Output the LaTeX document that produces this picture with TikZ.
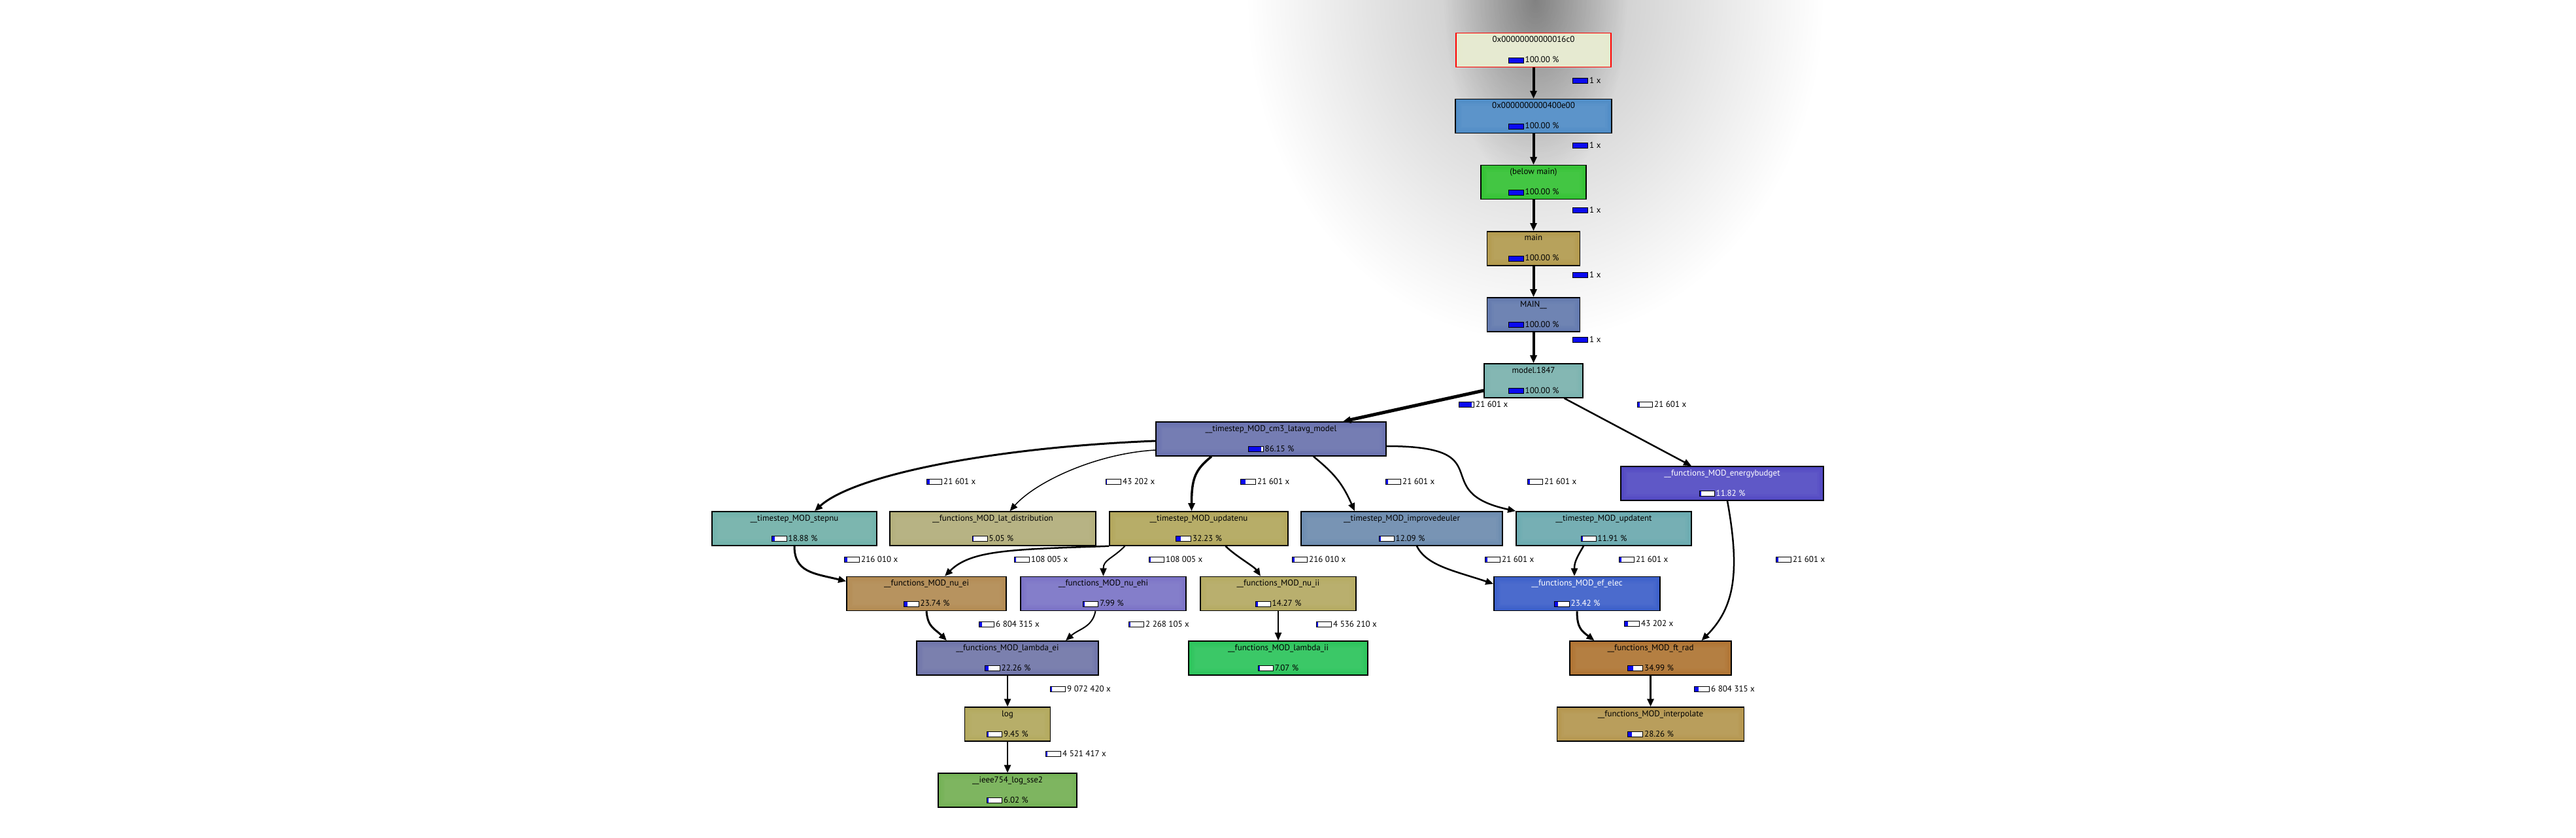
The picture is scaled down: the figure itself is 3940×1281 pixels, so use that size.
\documentclass[tikz,border=0pt]{standalone}
\usepackage{fontspec}
\setmainfont{PT Sans}
\usepackage{tikz}
\usetikzlibrary{arrows.meta,positioning,fadings}
\definecolor{barblue}{HTML}{0A0AF0}
\definecolor{kroot}{HTML}{E6EACD}
\definecolor{k400}{HTML}{4E8CC6}
\definecolor{kbelow}{HTML}{33C233}
\definecolor{kmain}{HTML}{B39A4D}
\definecolor{kMAIN}{HTML}{6379AF}
\definecolor{kmodel}{HTML}{79B3AF}
\definecolor{kcm3}{HTML}{6971AF}
\definecolor{kenergy}{HTML}{5148C3}
\definecolor{kstepnu}{HTML}{70B2AA}
\definecolor{klatdist}{HTML}{B3AF7A}
\definecolor{kupdatenu}{HTML}{B3A65C}
\definecolor{kimprove}{HTML}{6C8CB0}
\definecolor{kupdatent}{HTML}{6AAAB0}
\definecolor{knuei}{HTML}{B38B52}
\definecolor{knuehi}{HTML}{7A72C6}
\definecolor{knuii}{HTML}{B5AB62}
\definecolor{kefelec}{HTML}{3B5FC9}
\definecolor{klambdaei}{HTML}{6F74A9}
\definecolor{klambdaii}{HTML}{2BC45B}
\definecolor{kftrad}{HTML}{B07332}
\definecolor{klog}{HTML}{B3A85D}
\definecolor{kinterp}{HTML}{B5964D}
\definecolor{kieee}{HTML}{72B153}
\tikzfading[name=glow,inner color=transparent!0,outer color=transparent!100]
\newcommand{\pbar}[1]{{\setlength{\fboxsep}{0pt}\setlength{\fboxrule}{1pt}%
  \fcolorbox{black}{white}{\textcolor{barblue}{\rule{\dimexpr 22pt*#1/100\relax}{7pt}}%
  \hspace{\dimexpr 22pt-22pt*#1/100\relax}}}}
\newcommand{\fnlabel}[3]{\rule[-2pt]{0pt}{10pt}#1\\[15.4pt]%
  \rule[-2pt]{0pt}{10pt}\pbar{#2}\hspace{2pt}#3 \%}
\tikzset{
  fn/.style={draw=black,line width=1.6pt,minimum height=52pt,inner sep=0pt,
    align=center,font=\fontsize{13}{15.6}\selectfont,
    path picture={\foreach \k in {1,...,4}
      \fill[white,opacity=0.025] ([shift={(\k*2.5pt,-\k*2.5pt)}]path picture bounding box.north west)
        rectangle ([shift={(-\k*2.5pt,\k*2.5pt)}]path picture bounding box.south east);}},
  root/.style={fn,draw=red,fill=kroot},
  call/.style={-{Triangle[length=12pt,width=10pt]},draw=black,line width=#1},
  cnt/.style={anchor=west,inner sep=0pt,font=\fontsize{13}{15.6}\selectfont}
}
\begin{document}
\begin{tikzpicture}[x=1pt,y=-1pt,node distance=47.5pt]
        \useasboundingbox (0,0) rectangle (3940,1281);
        \fill[white] (0,0) rectangle (3940,1281);
        \fill[black,opacity=0.25,path fading=glow] (2348,0) ellipse [x radius=440,y radius=520];
        \fill[black,opacity=0.32,path fading=glow] (2348,0) ellipse [x radius=140,y radius=290];

        \node[root,minimum width=237pt] (a16c0) at (2345.5,76.5) {\fnlabel{0x00000000000016c0}{100}{100.00}};
        \node[fn,fill=k400,minimum width=239pt,below=of a16c0] (a400e00) {\fnlabel{0x0000000000400e00}{100}{100.00}};
        \node[fn,fill=kbelow,minimum width=161pt,below=of a400e00] (belowmain) {\fnlabel{(below main)}{100}{100.00}};
        \node[fn,fill=kmain,minimum width=142pt,below=of belowmain] (cmain) {\fnlabel{main}{100}{100.00}};
        \node[fn,fill=kMAIN,minimum width=142pt,below=of cmain] (cMAIN) {\fnlabel{MAIN\_\_}{100}{100.00}};
        \node[fn,fill=kmodel,minimum width=151pt,below=of cMAIN] (model) {\fnlabel{model.1847}{100}{100.00}};
        \node[fn,fill=kcm3,minimum width=352pt] (cm3) at (1944,671) {\fnlabel{\_\_timestep\_MOD\_cm3\_latavg\_model}{86}{86.15}};
        \node[fn,fill=kenergy,text=white,minimum width=310pt] (energy) at (2634,739) {\fnlabel{\_\_functions\_MOD\_energybudget}{12}{11.82}};
        \node[fn,fill=kstepnu,minimum width=252pt] (stepnu) at (1215,808) {\fnlabel{\_\_timestep\_MOD\_stepnu}{19}{18.88}};
        \node[fn,fill=klatdist,minimum width=315pt] (latdist) at (1518.5,808) {\fnlabel{\_\_functions\_MOD\_lat\_distribution}{5}{5.05}};
        \node[fn,fill=kupdatenu,minimum width=273pt] (updatenu) at (1833.5,808) {\fnlabel{\_\_timestep\_MOD\_updatenu}{32}{32.23}};
        \node[fn,fill=kimprove,minimum width=308pt] (improve) at (2144,808) {\fnlabel{\_\_timestep\_MOD\_improvedeuler}{12}{12.09}};
        \node[fn,fill=kupdatent,minimum width=268pt] (updatent) at (2453,808) {\fnlabel{\_\_timestep\_MOD\_updatent}{12}{11.91}};
        \node[fn,fill=knuei,minimum width=244pt] (nuei) at (1417,907.5) {\fnlabel{\_\_functions\_MOD\_nu\_ei}{24}{23.74}};
        \node[fn,fill=knuehi,minimum width=253pt] (nuehi) at (1687.5,907.5) {\fnlabel{\_\_functions\_MOD\_nu\_ehi}{8}{7.99}};
        \node[fn,fill=knuii,minimum width=238pt] (nuii) at (1955,907.5) {\fnlabel{\_\_functions\_MOD\_nu\_ii}{14}{14.27}};
        \node[fn,fill=kefelec,text=white,minimum width=254pt] (efelec) at (2412,907.5) {\fnlabel{\_\_functions\_MOD\_ef\_elec}{23}{23.42}};
        \node[fn,fill=klambdaei,minimum width=278pt] (lambdaei) at (1541,1006) {\fnlabel{\_\_functions\_MOD\_lambda\_ei}{22}{22.26}};
        \node[fn,fill=klambdaii,minimum width=274pt] (lambdaii) at (1955,1006) {\fnlabel{\_\_functions\_MOD\_lambda\_ii}{7}{7.07}};
        \node[fn,fill=kftrad,minimum width=247pt] (ftrad) at (2524.5,1006) {\fnlabel{\_\_functions\_MOD\_ft\_rad}{35}{34.99}};
        \node[fn,fill=klog,minimum width=131pt,below=of lambdaei] (logf) {\fnlabel{log}{9}{9.45}};
        \node[fn,fill=kinterp,minimum width=286pt,below=of ftrad] (interp) {\fnlabel{\_\_functions\_MOD\_interpolate}{28}{28.26}};
        \node[fn,fill=kieee,minimum width=212pt,below=of logf] (ieee) {\fnlabel{\_\_ieee754\_log\_sse2}{6}{6.02}};

        \draw[call=4pt] (a16c0) -- (a400e00);
        \draw[call=4pt] (a400e00) -- (belowmain);
        \draw[call=4pt] (belowmain) -- (cmain);
        \draw[call=4pt] (cmain) -- (cMAIN);
        \draw[call=4pt] (cMAIN) -- (model);
        \draw[call=5pt] ([yshift=-15pt]model.west) -- ([xshift=110pt]cm3.north);
        \draw[call=2.5pt] ([xshift=47pt]model.south) -- ([xshift=-47pt]energy.north);
        \draw[call=3pt] ([yshift=-3pt]cm3.west) .. controls +(-250,10) and +(60,-55) .. ([xshift=31pt]stepnu.north);
        \draw[call=1.5pt] ([yshift=-17pt]cm3.west) .. controls +(-90,5) and +(40,-45) .. ([xshift=26pt]latdist.north);
        \draw[call=3.5pt] ([xshift=-91pt]cm3.south) .. controls +(-25,20) and +(0,-50) .. ([xshift=-11pt]updatenu.north);
        \draw[call=2.5pt] ([xshift=65pt]cm3.south) .. controls +(30,25) and +(-20,-45) .. ([xshift=-72pt]improve.north);
        \draw[call=2.5pt] ([yshift=-11pt]cm3.east) .. controls +(180,0) and +(-139,-30) .. (updatent.north west);
        \draw[call=3pt] (stepnu.south) .. controls +(0,40) and +(-50,-12) .. ([yshift=19pt]nuei.west);
        \draw[call=2.5pt] (updatenu.south west) .. controls +(-150,5) and +(40,-40) .. ([xshift=28pt]nuei.north);
        \draw[call=2pt] ([xshift=-113pt]updatenu.south) .. controls +(-20,20) and +(0,-25) .. (nuehi.north);
        \draw[call=2.5pt] ([xshift=41pt]updatenu.south) .. controls +(15,15) and +(-10,-15) .. ([xshift=-27pt]nuii.north);
        \draw[call=2.5pt] ([xshift=23pt]improve.south) .. controls +(15,30) and +(-60,-20) .. ([yshift=15pt]efelec.west);
        \draw[call=2.5pt] ([xshift=-31pt]updatent.south) .. controls +(-12,20) and +(0,-20) .. ([xshift=-4pt]efelec.north);
        \draw[call=2.5pt] ([xshift=8pt]energy.south) .. controls +(20,110) and +(50,-50) .. ([xshift=78pt]ftrad.north);
        \draw[call=3pt] (efelec.south) .. controls +(0,25) and +(-20,-15) .. ([xshift=-86pt]ftrad.north);
        \draw[call=3pt] (nuei.south) .. controls +(2,25) and +(-18,-18) .. ([xshift=-93pt]lambdaei.north);
        \draw[call=2pt] ([xshift=-12pt]nuehi.south) .. controls +(-5,25) and +(20,-18) .. ([xshift=89pt]lambdaei.north);
        \draw[call=2pt] (nuii) -- (lambdaii);
        \draw[call=2.5pt] (lambdaei) -- (logf);
        \draw[call=2.5pt] (logf) -- (ieee);
        \draw[call=3pt] (ftrad) -- (interp);

        \node[cnt] (c16c0) at (2405,123) {\pbar{100}\hspace{2pt}1 x};
        \node[cnt] (c400e00) at (2405,222) {\pbar{100}\hspace{2pt}1 x};
        \node[cnt] (cbelow) at (2405,321) {\pbar{100}\hspace{2pt}1 x};
        \node[cnt] (cmainc) at (2405,420) {\pbar{100}\hspace{2pt}1 x};
        \node[cnt] (cMAINc) at (2405,519) {\pbar{100}\hspace{2pt}1 x};
        \node[cnt] (ccm3) at (2231,618) {\pbar{86}\hspace{2pt}21 601 x};
        \node[cnt] (cenergy) at (2504,618) {\pbar{12}\hspace{2pt}21 601 x};
        \node[cnt] (cstepnu) at (1417,736) {\pbar{19}\hspace{2pt}21 601 x};
        \node[cnt] (clatdist) at (1691,736) {\pbar{5}\hspace{2pt}43 202 x};
        \node[cnt] (cupdatenu) at (1897,736) {\pbar{32}\hspace{2pt}21 601 x};
        \node[cnt] (cimprove) at (2119,736) {\pbar{12}\hspace{2pt}21 601 x};
        \node[cnt] (cupdatent) at (2336,736) {\pbar{12}\hspace{2pt}21 601 x};
        \node[cnt] (cnuei) at (1291,855) {\pbar{16}\hspace{2pt}216 010 x};
        \node[cnt] (cnueib) at (1551,855) {\pbar{8}\hspace{2pt}108 005 x};
        \node[cnt] (cnuehi) at (1757,855) {\pbar{8}\hspace{2pt}108 005 x};
        \node[cnt] (cnuii) at (1976,855) {\pbar{14}\hspace{2pt}216 010 x};
        \node[cnt] (cefelec) at (2271,855) {\pbar{12}\hspace{2pt}21 601 x};
        \node[cnt] (cefelecb) at (2476,855) {\pbar{12}\hspace{2pt}21 601 x};
        \node[cnt] (cftrad) at (2716,855) {\pbar{12}\hspace{2pt}21 601 x};
        \node[cnt] (clambdaei) at (1497,954) {\pbar{15}\hspace{2pt}6 804 315 x};
        \node[cnt] (clambdaeib) at (1726,954) {\pbar{7}\hspace{2pt}2 268 105 x};
        \node[cnt] (clambdaii) at (2013,954) {\pbar{7}\hspace{2pt}4 536 210 x};
        \node[cnt] (cftradb) at (2484,953) {\pbar{23}\hspace{2pt}43 202 x};
        \node[cnt] (clog) at (1606,1053) {\pbar{9}\hspace{2pt}9 072 420 x};
        \node[cnt] (cinterp) at (2591,1053) {\pbar{28}\hspace{2pt}6 804 315 x};
        \node[cnt] (cieee) at (1599,1152) {\pbar{6}\hspace{2pt}4 521 417 x};
\end{tikzpicture}
\end{document}
